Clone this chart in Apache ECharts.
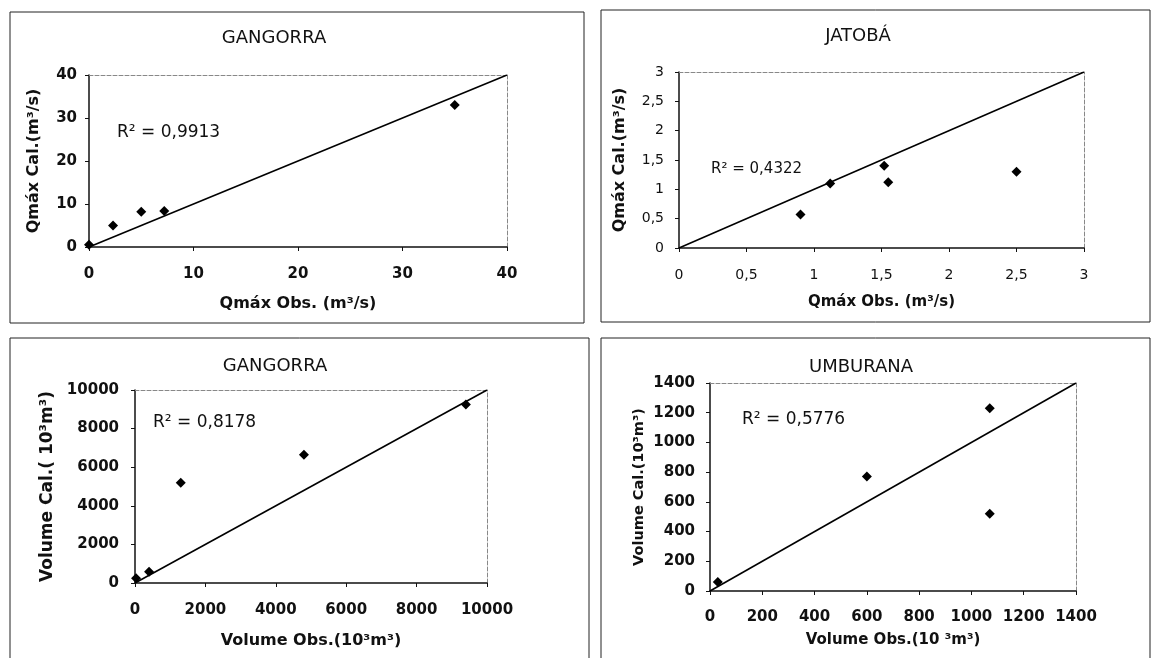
<!DOCTYPE html>
<html><head><meta charset="utf-8">
<script src="https://cdn.jsdelivr.net/npm/echarts@6/dist/echarts.min.js"></script>
<style>html,body{margin:0;padding:0;background:#fff}#c{width:1156px;height:658px}</style>
</head><body><div id="c"></div>
<script>
// Panel titles and labels
const titles = ['GANGORRA', 'JATOBÁ', 'GANGORRA', 'UMBURANA'];
const xNames = ['Qmáx Obs. (m³/s)', 'Qmáx Obs. (m³/s)', 'Volume Obs.(10³m³)', 'Volume Obs.(10 ³m³)'];
const yNames = ['Qmáx Cal.(m³/s)', 'Qmáx Cal.(m³/s)', 'Volume Cal.( 10³m³)', 'Volume Cal.(10³m³)'];
const r2Texts = ['R² = 0,9913', 'R² = 0,4322', 'R² = 0,8178', 'R² = 0,5776'];
// Axis ranges
const axisMax = [40, 3, 10000, 1400];
const axisInterval = [10, 0.5, 2000, 200];
// Observed vs calculated points
const pts1 = [[0, 0.5], [2.3, 5], [5, 8.2], [7.2, 8.4], [35, 33]];
const pts2 = [[0.9, 0.57], [1.12, 1.1], [1.52, 1.4], [1.55, 1.12], [2.5, 1.3]];
const pts3 = [[30, 250], [400, 580], [1300, 5200], [4800, 6650], [9400, 9250]];
const pts4 = [[30, 60], [600, 770], [1070, 1230], [1070, 520]];
// 1:1 reference lines
const line1 = [[0, 0], [40, 40]];
const line2 = [[0, 0], [3, 3]];
const line3 = [[0, 0], [10000, 10000]];
const line4 = [[0, 0], [1400, 1400]];

const pts = [pts1, pts2, pts3, pts4];
const lines = [line1, line2, line3, line4];

const grids = [
  {left: 89, right: 649, top: 75, bottom: 411},
  {left: 679, right: 72, top: 72, bottom: 410},
  {left: 135, right: 669, top: 390, bottom: 75},
  {left: 710, right: 80, top: 383, bottom: 67}
];
const tickFont = [
  {fontSize: 15, fontWeight: 'bold', margin: 20, ymargin: 12},
  {fontSize: 14, fontWeight: 'normal', margin: 20, ymargin: 15},
  {fontSize: 15, fontWeight: 'bold', margin: 20, ymargin: 16},
  {fontSize: 15, fontWeight: 'bold', margin: 19, ymargin: 15}
];
const xNameSize = [16, 15, 16, 15];
const yNameSize = [16, 16, 17, 14.5];
const xNameGap = [49, 47, 50, 42];
const yNameGap = [47, 51, 79, 63];
const titleSize = 18;
const r2Size = [17, 15, 17, 17];
const titlePos = [[269, 33], [853, 31], [270, 361], [856, 362]];
const r2Pos = [[117, 135], [711, 173], [153, 425], [742, 422]];

const FONT = 'DejaVu Sans, Liberation Sans, sans-serif';
const fmt = (i) => (v) => i === 1 ? String(v).replace('.', ',') : String(v);

const xAxis = [], yAxis = [], series = [], graphic = [], title = [];
for (let i = 0; i < 4; i++) {
  xAxis.push({
    type: 'value', gridIndex: i, min: 0, max: axisMax[i], interval: axisInterval[i],
    name: xNames[i], nameLocation: 'middle', nameGap: xNameGap[i],
    nameTextStyle: {fontFamily: FONT, fontSize: xNameSize[i], fontWeight: 'bold', color: '#111'},
    axisLine: {show: true, onZero: false, lineStyle: {color: '#111', width: 1.5}},
    axisTick: {show: true, inside: false, length: 4, lineStyle: {color: '#111'}},
    axisLabel: {fontFamily: FONT, fontSize: tickFont[i].fontSize, fontWeight: tickFont[i].fontWeight, color: '#111', margin: tickFont[i].margin, formatter: fmt(i)},
    splitLine: {show: false}
  });
  xAxis.push({
    type: 'value', gridIndex: i, min: 0, max: axisMax[i], position: 'top',
    axisLine: {show: true, onZero: false, lineStyle: {color: '#888', type: 'dashed', width: 1}},
    axisTick: {show: false}, axisLabel: {show: false}, splitLine: {show: false}
  });
  yAxis.push({
    type: 'value', gridIndex: i, min: 0, max: axisMax[i], interval: axisInterval[i],
    name: yNames[i], nameLocation: 'middle', nameGap: yNameGap[i],
    nameTextStyle: {fontFamily: FONT, fontSize: yNameSize[i], fontWeight: 'bold', color: '#111'},
    axisLine: {show: true, onZero: false, lineStyle: {color: '#111', width: 1.5}},
    axisTick: {show: true, inside: false, length: 4, lineStyle: {color: '#111'}},
    axisLabel: {fontFamily: FONT, fontSize: tickFont[i].fontSize, fontWeight: tickFont[i].fontWeight, color: '#111', margin: tickFont[i].ymargin, formatter: fmt(i)},
    splitLine: {show: false}
  });
  yAxis.push({
    type: 'value', gridIndex: i, min: 0, max: axisMax[i], position: 'right',
    axisLine: {show: true, onZero: false, lineStyle: {color: '#888', type: 'dashed', width: 1}},
    axisTick: {show: false}, axisLabel: {show: false}, splitLine: {show: false}
  });
  series.push({
    type: 'line', xAxisIndex: 2 * i, yAxisIndex: 2 * i, data: lines[i],
    showSymbol: false, symbol: 'none', lineStyle: {color: '#000', width: 1.6}, silent: true, z: 2
  });
  series.push({
    type: 'scatter', xAxisIndex: 2 * i, yAxisIndex: 2 * i, data: pts[i],
    symbol: 'diamond', symbolSize: 10, itemStyle: {color: '#000', opacity: 1}, z: 3
  });
  title.push({
    text: titles[i], left: titlePos[i][0], top: titlePos[i][1], textAlign: 'center', textVerticalAlign: 'middle',
    textStyle: {fontFamily: FONT, fontSize: titleSize, fontWeight: 'normal', color: '#111'}
  });
  graphic.push({
    type: 'text', left: r2Pos[i][0], top: r2Pos[i][1] - 11,
    style: {text: r2Texts[i], font: r2Size[i] + 'px ' + FONT, fill: '#111'}
  });
}
// panel frames
const frames = [[10, 12, 574, 311], [601, 10, 549, 312], [10, 338, 579, 330], [601, 338, 549, 330]];
frames.forEach(f => graphic.push({
  type: 'rect', shape: {x: f[0], y: f[1], width: f[2], height: f[3]},
  style: {fill: 'none', stroke: '#222', lineWidth: 1}, z: -1
}));

const chart = echarts.init(document.getElementById('c'));
chart.setOption({
  animation: false,
  backgroundColor: '#fff',
  title: title,
  grid: grids,
  xAxis: xAxis,
  yAxis: yAxis,
  series: series,
  graphic: graphic
});
</script>
</body></html>
